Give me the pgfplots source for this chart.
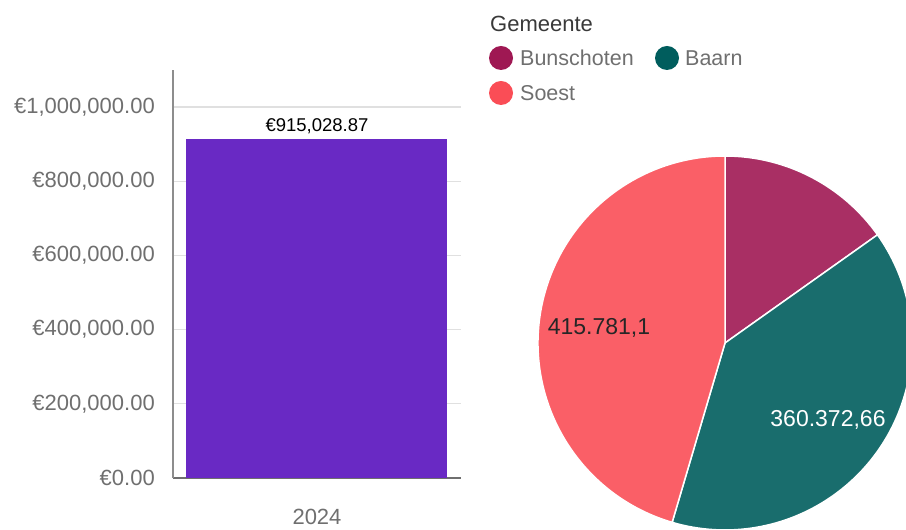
\documentclass[border=0pt]{standalone}
\usepackage{fontspec}
\setmainfont{Liberation Sans}
\usepackage{pgfplots}
\pgfplotsset{compat=1.18}
\definecolor{barpurple}{HTML}{6929C4}
\definecolor{cbun}{HTML}{9F1853}
\definecolor{cbaarn}{HTML}{005D5D}
\definecolor{csoest}{HTML}{FA4D56}
\definecolor{gridc}{HTML}{E0E0E0}
\definecolor{tickc}{HTML}{6F6F6F}
\definecolor{titlec}{HTML}{393939}
\definecolor{ylinec}{HTML}{8D8D8D}
\definecolor{xlinec}{HTML}{6F6F6F}

% values per gemeente (2024)
\def\vBun{138875.11}
\def\vBaarn{360372.66}
\def\vSoest{415781.1}
\def\vTot{915028.87}

\begin{document}
\begin{tikzpicture}
\useasboundingbox (0pt,0pt) rectangle (906pt,530pt);
\clip (0pt,0pt) rectangle (906pt,530pt);

% ---------------- bar chart ----------------
\begin{axis}[
  at={(173pt,52pt)}, anchor=south west,
  scale only axis, width=288pt, height=408pt,
  ybar, bar width=261pt,
  xmin=-0.5, xmax=0.5, ymin=0, ymax=1100000,
  ytick={0,200000,400000,600000,800000,1000000},
  yticklabels={{€0.00},{€200,000.00},{€400,000.00},{€600,000.00},{€800,000.00},{€1,000,000.00}},
  scaled y ticks=false,
  xtick={0}, xticklabels={2024},
  axis x line*=bottom, axis y line*=left,
  axis line style={-},
  x axis line style={draw=xlinec, line width=1.3pt},
  y axis line style={draw=ylinec, line width=1.3pt},
  ymajorgrids, grid style={draw=gridc, line width=1.3pt},
  major tick length=0pt,
  tick style={draw=none},
  yticklabel style={font=\fontsize{22}{26}\selectfont, text=tickc, anchor=east, inner sep=0pt, xshift=-18pt},
  xticklabel style={font=\fontsize{22}{26}\selectfont, text=tickc, anchor=north, inner sep=0pt, yshift=-31pt},
  clip=false,
]
\addplot[fill=barpurple, draw=none,
  nodes near coords, point meta=explicit symbolic,
  nodes near coords style={font=\fontsize{18.5}{22}\selectfont, text=black, anchor=base, inner sep=0pt, yshift=7pt}]
  coordinates {(0,915028.87) [€915,028.87]};
\end{axis}

% ---------------- pie chart ----------------
\edef\aA{\fpeval{round(90-360*\vBun/\vTot,3)}}
\edef\aB{\fpeval{round(\aA-360*\vBaarn/\vTot,3)}}
\edef\aC{\fpeval{round(\aB-360*\vSoest/\vTot,3)}}
\begin{axis}[
  at={(725pt,187pt)}, anchor=origin,
  x=1pt, y=1pt,
  xmin=-190, xmax=190, ymin=-190, ymax=190,
  hide axis, clip=false,
]
\fill[cbun!90!white, draw=white, line width=1.5pt]
  (axis cs:0,0) -- ++(90:187pt) arc[start angle=90, end angle=\aA, radius=187pt] -- cycle;
\fill[cbaarn!90!white, draw=white, line width=1.5pt]
  (axis cs:0,0) -- ++(\aA:187pt) arc[start angle=\aA, end angle=\aB, radius=187pt] -- cycle;
\fill[csoest!90!white, draw=white, line width=1.5pt]
  (axis cs:0,0) -- ++(\aB:187pt) arc[start angle=\aB, end angle=\aC, radius=187pt] -- cycle;
\node[font=\fontsize{23}{27}\selectfont, text=black!85, inner sep=0pt] at (axis cs:-126,15) {415.781,1};
\node[font=\fontsize{23}{27}\selectfont, text=white, inner sep=0pt] at (axis cs:103,-77) {360.372,66};
\end{axis}

% ---------------- legend ----------------
\node[anchor=base west, inner sep=0pt, text=titlec, font=\fontsize{22}{26}\selectfont] at (490pt,498pt) {Gemeente};
\fill[cbun] (501pt,472pt) circle (12pt);
\node[anchor=base west, inner sep=0pt, text=tickc, font=\fontsize{21.5}{26}\selectfont] at (520pt,464.5pt) {Bunschoten};
\fill[cbaarn] (667pt,472pt) circle (12pt);
\node[anchor=base west, inner sep=0pt, text=tickc, font=\fontsize{21.5}{26}\selectfont] at (685pt,464.5pt) {Baarn};
\fill[csoest] (501pt,437pt) circle (12pt);
\node[anchor=base west, inner sep=0pt, text=tickc, font=\fontsize{21.5}{26}\selectfont] at (520pt,429.5pt) {Soest};
\end{tikzpicture}
\end{document}
